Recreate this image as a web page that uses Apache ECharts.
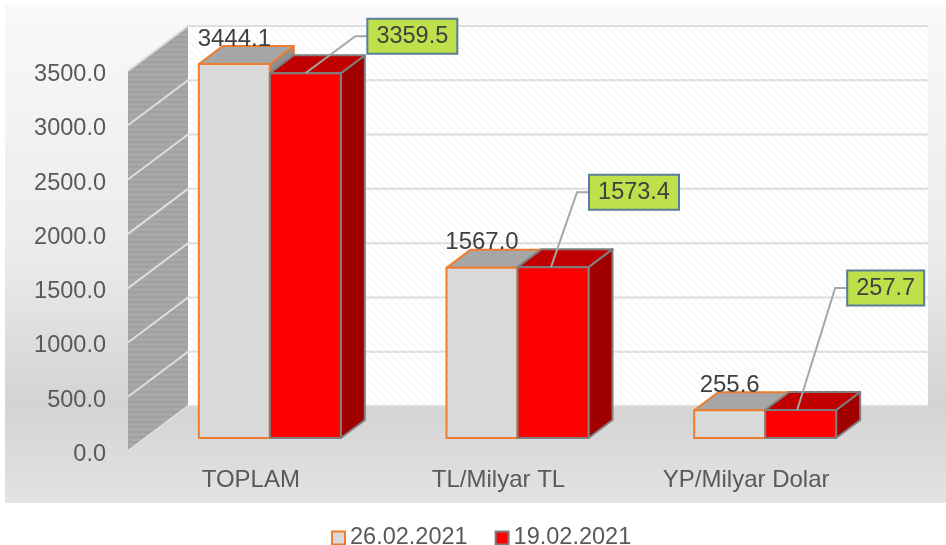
<!DOCTYPE html>
<html>
<head>
<meta charset="utf-8">
<style>
  html, body { margin: 0; padding: 0; background: #fff; }
  #chart { width: 946px; height: 545px; }
</style>
<script src="https://cdn.jsdelivr.net/npm/echarts@6/dist/echarts.min.js"></script>
</head>
<body>
<div id="chart"></div>
<script>
var categories = ["TOPLAM", "TL/Milyar TL", "YP/Milyar Dolar"];
var dates = ["26.02.2021", "19.02.2021"];
var values2602 = [3444.1, 1567.0, 255.6];
var values1902 = [3359.5, 1573.4, 257.7];
var yTicks = [0, 500, 1000, 1500, 2000, 2500, 3000, 3500];

var FONT = '"Liberation Sans", Arial, sans-serif';
var WALL = [60, -45]; // depth of the whole box
var BAR_PLANE = [18, -13]; // where the bars stand inside the box
var BAR_DEPTH = [24, -18];
var BAR_W = 71;
// callout box, relative to where its leader touches the red bar
var calloutBox = [
  { ax: 0, dx: 62, dy: -37, w: 90 },
  { ax: -2, dx: 38, dy: -75, w: 90 },
  { ax: -3.5, dx: 50, dy: -122, w: 77 }
];

function stripes(w, h, base, line, draw) {
  var c = document.createElement("canvas");
  c.width = w;
  c.height = h;
  var ctx = c.getContext("2d");
  ctx.fillStyle = base;
  ctx.fillRect(0, 0, w, h);
  ctx.strokeStyle = line;
  draw(ctx);
  return { image: c, repeat: "repeat" };
}
var backHatch = stripes(8, 8, "#ffffff", "#f8f8f8", function (ctx) {
  ctx.lineWidth = 2;
  ctx.beginPath();
  ctx.moveTo(-2, 2); ctx.lineTo(6, 10);
  ctx.moveTo(2, -2); ctx.lineTo(10, 6);
  ctx.stroke();
});
var sideHatch = stripes(4, 5, "#a8a8a8", "#a0a0a0", function (ctx) {
  ctx.lineWidth = 2;
  ctx.beginPath();
  ctx.moveTo(0, 2); ctx.lineTo(4, 2);
  ctx.stroke();
});

function poly(points, fill, stroke, lineWidth) {
  return {
    type: "polygon",
    shape: { points: points },
    style: { fill: fill, stroke: stroke || null, lineWidth: lineWidth || 0, lineJoin: "round" }
  };
}

// back wall + left wall
function renderWalls(params, api) {
  var a = api.coord([0, 0]);
  var band = api.size([1, 0])[0];
  var x0 = a[0] - band / 2;
  var y0 = a[1];
  var y1 = api.coord([0, 3500])[1];
  var right = x0 + band * 3 + WALL[0] - 3;
  return {
    type: "group",
    children: [
      poly([[x0 + WALL[0], y0 + WALL[1]], [right, y0 + WALL[1]], [right, y1 + WALL[1]], [x0 + WALL[0], y1 + WALL[1]]], backHatch),
      poly([[x0, y0], [x0 + WALL[0], y0 + WALL[1]], [x0 + WALL[0], y1 + WALL[1]], [x0, y1]], sideHatch)
    ]
  };
}

function renderGridLine(params, api) {
  var p = api.coord([0, api.value(0)]);
  var band = api.size([1, 0])[0];
  var x0 = p[0] - band / 2;
  var right = x0 + band * 3 + WALL[0] - 3;
  var style = { stroke: "#dedede", lineWidth: 2, fill: null };
  return {
    type: "polyline",
    shape: { points: [[x0, p[1]], [x0 + WALL[0], p[1] + WALL[1]], [right, p[1] + WALL[1]]] },
    style: style
  };
}

function makeBarRender(side, faces) {
  return function (params, api) {
    var top = api.coord([api.value(0), api.value(1)]);
    var base = api.coord([api.value(0), 0]);
    var x = top[0] + BAR_PLANE[0] + (side < 0 ? -BAR_W : 0);
    var yt = top[1] + BAR_PLANE[1];
    var yb = base[1] + BAR_PLANE[1];
    var xr = x + BAR_W;
    var dx = BAR_DEPTH[0], dy = BAR_DEPTH[1];
    return {
      type: "group",
      children: [
        poly([[xr, yt], [xr + dx, yt + dy], [xr + dx, yb + dy], [xr, yb]], faces.side, faces.border, 2),
        poly([[x, yt], [x + dx, yt + dy], [xr + dx, yt + dy], [xr, yt]], faces.top, faces.border, 2),
        poly([[x, yt], [xr, yt], [xr, yb], [x, yb]], faces.front, faces.border, 2)
      ]
    };
  };
}

function renderCallout(params, api) {
  var i = api.value(0);
  var top = api.coord([i, api.value(1)]);
  var box = calloutBox[i];
  var px = top[0] + BAR_PLANE[0] + BAR_W / 2 + box.ax;
  var py = top[1] + BAR_PLANE[1];
  var bx = px + box.dx;
  var by = py + box.dy;
  return {
    type: "group",
    children: [
      {
        type: "polyline",
        shape: { points: [[px, py], [bx - 12, by], [bx, by]] },
        style: { stroke: "#a6a6a6", lineWidth: 2, fill: null }
      },
      {
        type: "rect",
        shape: { x: bx, y: by - 17.5, width: box.w, height: 35 },
        style: { fill: "#bee04a", stroke: "#5a7d9a", lineWidth: 2 }
      },
      {
        type: "text",
        style: {
          x: bx + box.w / 2, y: by, text: api.value(1).toFixed(1),
          align: "center", verticalAlign: "middle",
          font: "23.5px " + FONT, fill: "#404040"
        }
      }
    ]
  };
}

function renderTopLabel(params, api) {
  var top = api.coord([api.value(0), api.value(1)]);
  return {
    type: "text",
    style: {
      x: top[0] + BAR_PLANE[0] - BAR_W / 2, y: top[1] + BAR_PLANE[1] - 25,
      text: api.value(1).toFixed(1),
      align: "center", verticalAlign: "middle",
      font: "24px " + FONT, fill: "#404040"
    }
  };
}

function pairs(values) {
  return values.map(function (v, i) { return [i, v]; });
}

var greyFaces = { front: "#d9d9d9", top: "#a6a6a6", side: "#8f8f8f", border: "#ed7d31" };
var redFaces = { front: "#ff0000", top: "#c00000", side: "#a00000", border: "#7f7f7f" };

var chart = echarts.init(document.getElementById("chart"), null, { renderer: "canvas" });
chart.setOption({
  animation: false,
  backgroundColor: "#ffffff",
  textStyle: { fontFamily: FONT },
  graphic: [
    {
      type: "rect",
      z: -10,
      shape: { x: 5, y: 5, width: 941, height: 498 },
      style: {
        fill: new echarts.graphic.LinearGradient(0, 0, 0, 1, [
          { offset: 0, color: "#f9f9f9" },
          { offset: 0.5, color: "#ebebeb" },
          { offset: 0.8, color: "#d3d3d3" },
          { offset: 1, color: "#e3e3e3" }
        ])
      }
    }
  ],
  grid: { left: 128, top: 71, width: 743, height: 380 },
  legend: {
    left: 326,
    top: 521,
    itemWidth: 13,
    itemHeight: 13,
    itemGap: 27,
    textStyle: { fontSize: 23.5, color: "#595959", fontFamily: FONT },
    data: [
      { name: dates[0], icon: "rect", itemStyle: { color: greyFaces.front, borderColor: greyFaces.border, borderWidth: 2 } },
      { name: dates[1], icon: "rect", itemStyle: { color: redFaces.front, borderColor: redFaces.border, borderWidth: 2 } }
    ]
  },
  xAxis: {
    type: "category",
    data: categories,
    axisLine: { show: false },
    axisTick: { show: false },
    axisLabel: { fontSize: 24, color: "#595959", margin: 17, padding: [0, 2, 0, 0] }
  },
  yAxis: {
    type: "value",
    min: 0,
    max: 3500,
    interval: 500,
    axisLine: { show: false },
    axisTick: { show: false },
    splitLine: { show: false },
    axisLabel: {
      fontSize: 23.5, color: "#595959", margin: 22,
      verticalAlign: "top", lineHeight: 7, // labels sit a little under their tick
      formatter: function (v) { return v.toFixed(1); }
    }
  },
  series: [
    { type: "custom", name: "walls", silent: true, z: 2, renderItem: renderWalls, data: [[0]] },
    { type: "custom", name: "grid", silent: true, z: 3, renderItem: renderGridLine, data: yTicks.map(function (t) { return [t]; }) },
    { type: "custom", name: dates[0], z: 4, renderItem: makeBarRender(-1, greyFaces), data: pairs(values2602) },
    { type: "custom", name: dates[1], z: 5, renderItem: makeBarRender(1, redFaces), data: pairs(values1902) },
    { type: "custom", name: "labels", z: 6, renderItem: renderTopLabel, data: pairs(values2602) },
    { type: "custom", name: "callouts", z: 7, renderItem: renderCallout, data: pairs(values1902) }
  ]
});
</script>
</body>
</html>
